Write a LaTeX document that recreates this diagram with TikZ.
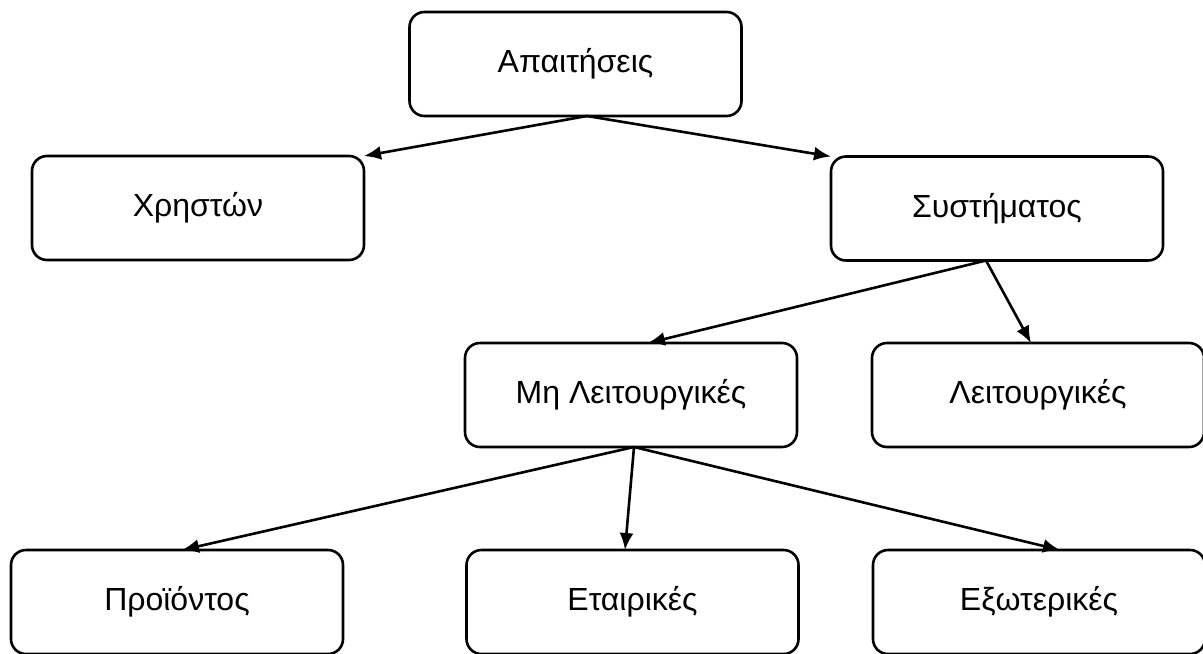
\documentclass[tikz,border=0pt]{standalone}
\usepackage{fontspec}
\setmainfont{Liberation Sans}
\usepackage{tikz}
\usetikzlibrary{positioning, arrows, arrows.meta}

\begin{document}
\begin{tikzpicture}[
    x=0.5pt, y=-0.5pt,
    box/.style = {draw, rounded corners=7.5pt, line width=1.3pt,
                  minimum width=166pt, minimum height=52pt,
                  inner sep=0pt, outer sep=0pt,
                  font=\fontsize{16pt}{19pt}\selectfont}
    ]
            % styles
            \tikzstyle{arrow} = [line width=1.3pt,-{Latex[length=8.5pt,width=7pt]},draw=black]

            \useasboundingbox (0,0) rectangle (1203,653);

            \node (apait) at (575.5,64) [box] {Απαιτήσεις};
            \node (xriston) at (198,208) [box] {Χρηστών};
            \node (systim) at (997,208.5) [box] {Συστήματος};
            \node (milit) at (631,395) [box] {Μη Λειτουργικές};
            \node (leit) at (1038,395) [box] {Λειτουργικές};
            \node (proion) at (177,602) [box] {Προϊόντος};
            \node (etair) at (632.5,602) [box] {Εταιρικές};
            \node (exot) at (1039,602) [box] {Εξωτερικές};

            \draw [arrow] ([xshift=5.75pt]apait.south) -- (xriston.north east);
            \draw [arrow] ([xshift=5.75pt]apait.south) -- (systim.north west);
            \draw [arrow] ([xshift=-5.5pt]systim.south) -- ([xshift=8.5pt]milit.north);
            \draw [arrow] ([xshift=-5.5pt]systim.south) -- ([xshift=-3.5pt]leit.north);
            \draw [arrow] ([xshift=1.5pt]milit.south) -- ([xshift=2.5pt]proion.north);
            \draw [arrow] ([xshift=1.5pt]milit.south) -- ([xshift=-3.75pt]etair.north);
            \draw [arrow] ([xshift=1.5pt]milit.south) -- ([xshift=10.5pt]exot.north);
    \end{tikzpicture}
\end{document}
